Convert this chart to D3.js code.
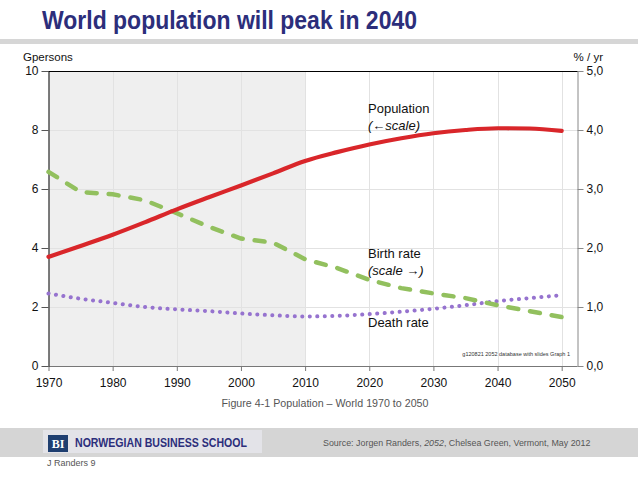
<!DOCTYPE html>
<html><head><meta charset="utf-8">
<script src="https://cdn.jsdelivr.net/npm/d3@7"></script>
<style>body{margin:0;background:#fff}svg{display:block;font-family:"Liberation Sans",Arial,sans-serif}</style>
</head><body><svg id="c" width="638" height="479"></svg>
<script>
const years = [1970,1975,1980,1985,1990,1995,2000,2005,2010,2015,2020,2025,2030,2035,2040,2045,2050];
const population = [3.70,4.07,4.45,4.87,5.31,5.72,6.12,6.53,6.95,7.25,7.51,7.72,7.89,8.00,8.06,8.05,7.97];
const birthRate = [3.29,2.95,2.91,2.81,2.59,2.36,2.16,2.09,1.81,1.66,1.46,1.32,1.23,1.15,1.03,0.93,0.83];
const deathRate = [1.23,1.14,1.07,1.00,0.96,0.93,0.89,0.86,0.84,0.85,0.88,0.92,0.97,1.03,1.10,1.15,1.20];
const xTicks = [1970,1980,1990,2000,2010,2020,2030,2040,2050];
const leftTicks = [0,2,4,6,8,10];
const rightTicks = [0,1,2,3,4,5];
const rightTickLabels = ["0,0","1,0","2,0","3,0","4,0","5,0"];

const svg = d3.select("#c");
const L=48.5, R=577.5, T=71, B=366;
const x = d3.scaleLinear().domain([1970,2050]).range([L, 561.7]);
const yL = d3.scaleLinear().domain([0,10]).range([B,T]);
const yR = d3.scaleLinear().domain([0,5]).range([B,T]);

// title
svg.append("text").attr("x",42).attr("y",29).attr("font-size",26).attr("font-weight","bold")
  .attr("fill","#2c2e7b").attr("textLength",375).attr("lengthAdjust","spacingAndGlyphs")
  .text("World population will peak in 2040");
svg.append("rect").attr("x",0).attr("y",39).attr("width",638).attr("height",5).attr("fill","#d6d6d6");

// shaded area
svg.append("rect").attr("x",x(1970)).attr("y",T).attr("width",x(2010)-x(1970)).attr("height",B-T).attr("fill","#efefef");

// grid
const g = svg.append("g");
g.selectAll(".vg").data(xTicks.slice(1)).join("line")
  .attr("x1",d=>Math.round(x(d))+0.5).attr("x2",d=>Math.round(x(d))+0.5).attr("y1",T).attr("y2",B)
  .attr("stroke","#e2e2e2").attr("stroke-width",1);
g.selectAll(".hg").data([2,4,6,8]).join("line")
  .attr("x1",L).attr("x2",R).attr("y1",d=>Math.round(yL(d))+0.5).attr("y2",d=>Math.round(yL(d))+0.5)
  .attr("stroke","#e2e2e2").attr("stroke-width",1);

// axes
const ax = svg.append("g").attr("transform",`translate(0,${B})`)
  .call(d3.axisBottom(x).tickValues(xTicks).tickFormat(d3.format("d")).tickSize(5).tickSizeOuter(0));
ax.select(".domain").attr("d",`M${L},0.5H${R}`).attr("stroke","#777");
ax.selectAll(".tick line").attr("stroke","#777");
ax.selectAll("text").attr("font-size",12).attr("fill","#111").attr("dy","1.05em").attr("font-family","Liberation Sans, Arial");

const ayl = svg.append("g").attr("transform",`translate(${L},0)`)
  .call(d3.axisLeft(yL).tickValues(leftTicks).tickSize(7).tickSizeOuter(0));
ayl.select(".domain").attr("stroke","#000");
ayl.selectAll(".tick line").attr("stroke","#555");
ayl.selectAll("text").attr("font-size",12).attr("fill","#111").attr("x",-10).attr("font-family","Liberation Sans, Arial");

const ayr = svg.append("g").attr("transform",`translate(${R},0)`)
  .call(d3.axisRight(yR).tickValues(rightTicks).tickFormat((d,i)=>rightTickLabels[i]).tickSize(6).tickSizeOuter(0));
ayr.select(".domain").attr("stroke","#888");
ayr.selectAll(".tick line").attr("stroke","#888");
ayr.selectAll("text").attr("font-size",12).attr("fill","#111").attr("x",9).attr("font-family","Liberation Sans, Arial");

svg.append("line").attr("x1",L).attr("x2",R).attr("y1",T+0.5).attr("y2",T+0.5).attr("stroke","#000");

svg.append("text").attr("x",23).attr("y",61).attr("font-size",11.5).attr("fill","#111").text("Gpersons");
svg.append("text").attr("x",603).attr("y",61).attr("font-size",11.5).attr("fill","#111").attr("text-anchor","end").text("% / yr");

// lines
const idx = years.map((d,i)=>i);
const popLine = d3.line().x(i=>x(years[i])).y(i=>yL(population[i])).curve(d3.curveMonotoneX);
const birthLine = d3.line().x(i=>x(years[i])).y(i=>yR(birthRate[i])).curve(d3.curveLinear);
const deathLine = d3.line().x(i=>x(years[i])).y(i=>yR(deathRate[i])).curve(d3.curveMonotoneX);

svg.append("path").attr("d",deathLine(idx)).attr("fill","none").attr("stroke","#9673cf")
  .attr("stroke-width",4).attr("stroke-linecap","round").attr("stroke-dasharray","0.1 7.4");
svg.append("path").attr("d",birthLine(idx)).attr("fill","none").attr("stroke","#92c05e")
  .attr("stroke-width",4.5).attr("stroke-linecap","round").attr("stroke-dasharray","10 12");
svg.append("path").attr("d",popLine(idx)).attr("fill","none").attr("stroke","#d9262a")
  .attr("stroke-width",4.2).attr("stroke-linecap","round");

// annotations
const ann = svg.append("g").attr("font-size",13).attr("fill","#111");
ann.append("text").attr("x",368).attr("y",113).text("Population");
ann.append("text").attr("x",368).attr("y",130).attr("font-style","italic").text("(\u2190scale)");
ann.append("text").attr("x",368).attr("y",258).text("Birth rate");
ann.append("text").attr("x",368).attr("y",275).attr("font-style","italic").text("(scale \u2192)");
ann.append("text").attr("x",368).attr("y",327).text("Death rate");
svg.append("text").attr("x",570).attr("y",356).attr("font-size",5.5).attr("fill","#333").attr("text-anchor","end")
  .text("g120821 2052 database with slides Graph 1");

// caption & footer
svg.append("text").attr("x",325).attr("y",407).attr("font-size",10.5).attr("fill","#555").attr("text-anchor","middle")
  .attr("textLength",207).attr("lengthAdjust","spacingAndGlyphs").text("Figure 4-1  Population \u2013 World 1970 to 2050");
svg.append("rect").attr("x",0).attr("y",428).attr("width",638).attr("height",29).attr("fill","#d5d5d5");
svg.append("rect").attr("x",43).attr("y",430).attr("width",219).attr("height",23).attr("fill","#e3e3e8");
svg.append("rect").attr("x",48).attr("y",435).attr("width",20).attr("height",17).attr("fill","#1f3f70");
svg.append("text").attr("x",58).attr("y",448).attr("font-size",12).attr("font-weight","bold").attr("fill","#fff")
  .attr("text-anchor","middle").attr("font-family","Liberation Serif, serif").text("BI");
svg.append("text").attr("x",75).attr("y",447).attr("font-size",12).attr("font-weight","bold").attr("fill","#2c2e7b")
  .attr("textLength",172).attr("lengthAdjust","spacingAndGlyphs").text("NORWEGIAN BUSINESS SCHOOL");
// source line in three pieces laid out side by side
const srcParts = [["Source: Jorgen Randers, ","normal"],["2052","italic"],[", Chelsea Green, Vermont, May 2012","normal"]];
let sx = 323;
srcParts.forEach(([t,st])=>{
  const el = svg.append("text").attr("x",sx).attr("y",446).attr("font-size",8.9).attr("fill","#555")
    .attr("font-style",st).attr("xml:space","preserve").style("white-space","pre").text(t);
  sx += el.node().getComputedTextLength();
});
svg.append("text").attr("x",47).attr("y",466).attr("font-size",9).attr("fill","#555").text("J Randers 9");
</script></body></html>
